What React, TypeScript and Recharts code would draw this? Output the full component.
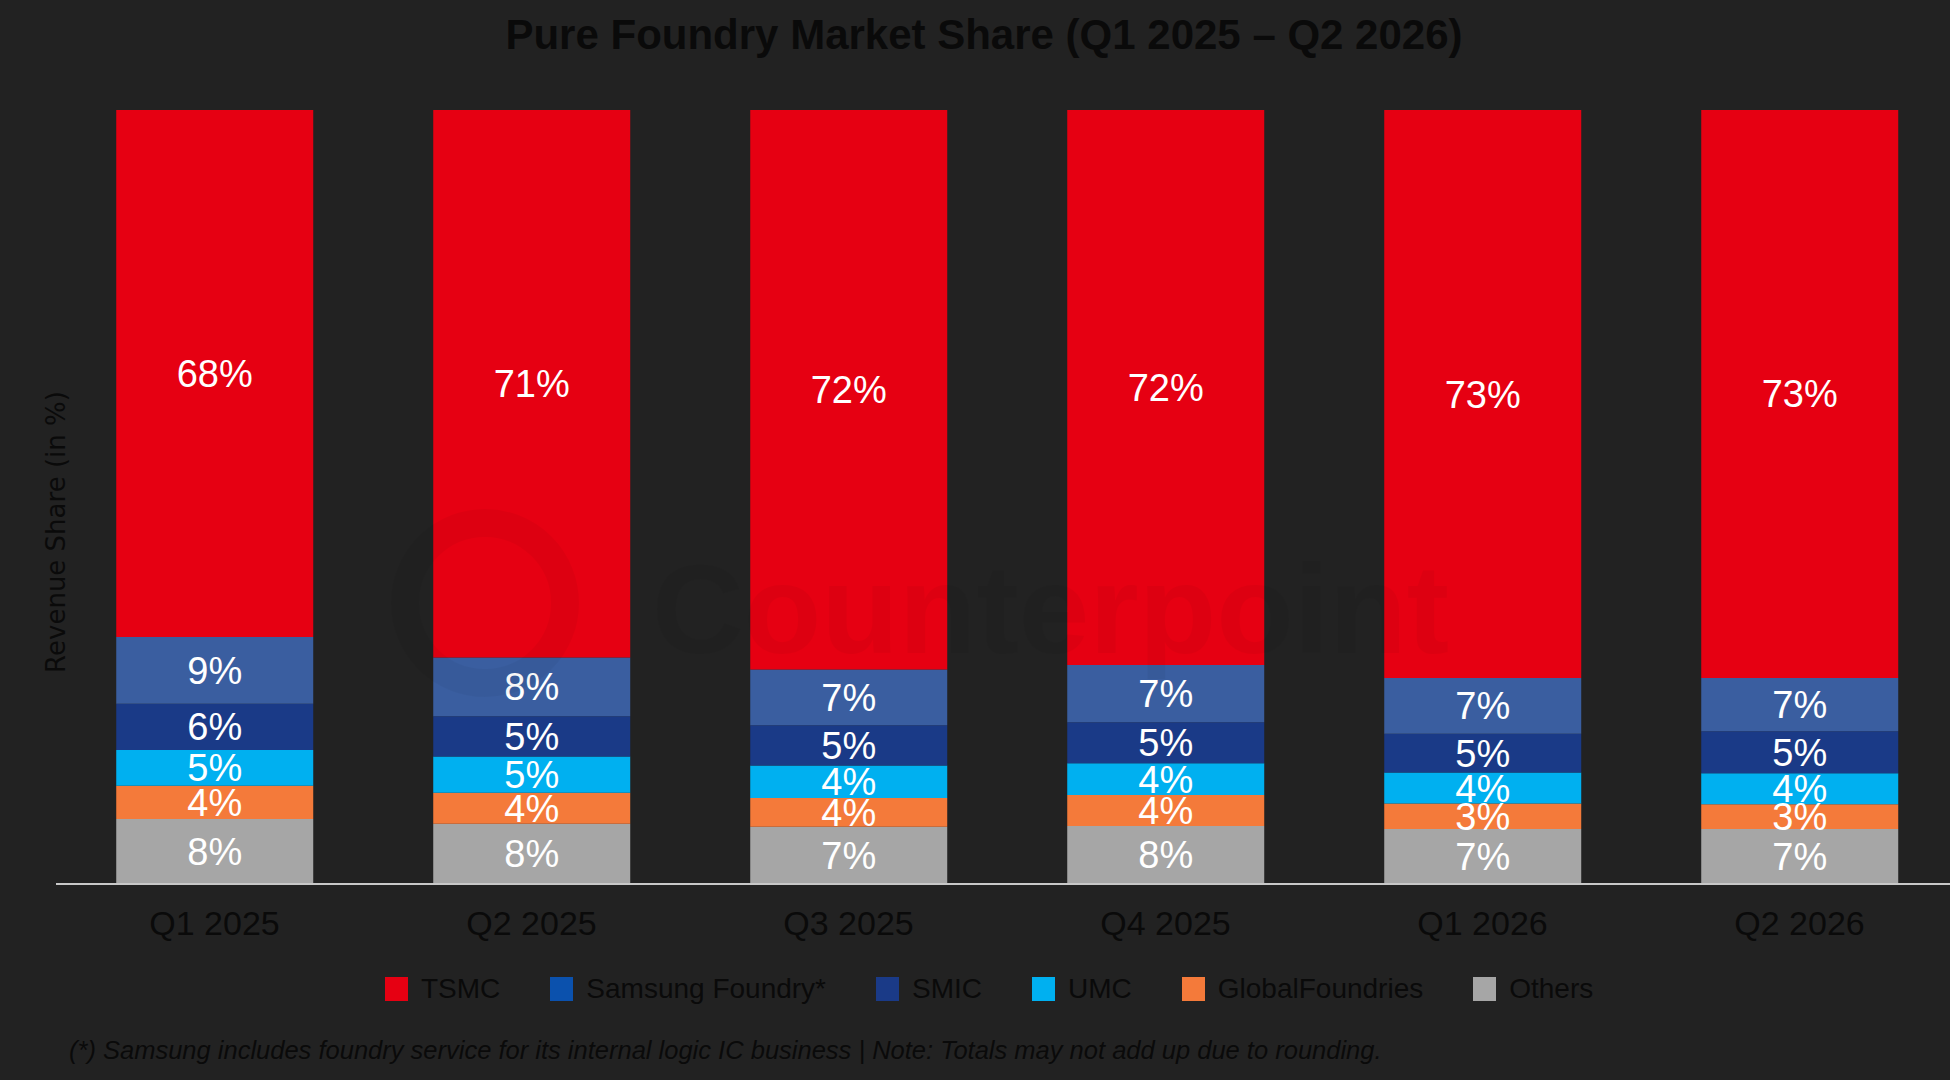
import React from 'react';
import { BarChart, Bar, XAxis, YAxis, LabelList } from 'recharts';

const quarters = ['Q1 2025', 'Q2 2025', 'Q3 2025', 'Q4 2025', 'Q1 2026', 'Q2 2026'];
const tsmc = [68.1, 70.8, 72.3, 71.7, 73.4, 73.3];
const samsung = [8.6, 7.6, 7.2, 7.4, 7.2, 6.9];
const smic = [6.0, 5.2, 5.2, 5.3, 5.0, 5.4];
const umc = [4.6, 4.7, 4.2, 4.1, 4.0, 4.0];
const globalFoundries = [4.3, 4.0, 3.7, 4.0, 3.3, 3.2];
const others = [8.4, 7.8, 7.4, 7.5, 7.1, 7.1];

const FONT = '"Liberation Sans", Arial, sans-serif';
const TEXT = '#0a0a0a';

// bottom of the stack first
const series = [
  { key: 'others', name: 'Others', color: '#a6a6a6', legend: '#a6a6a6' },
  { key: 'gf', name: 'GlobalFoundries', color: '#f47a3a', legend: '#f47a3a' },
  { key: 'umc', name: 'UMC', color: '#00b0f0', legend: '#00b0f0' },
  { key: 'smic', name: 'SMIC', color: '#1a3a87', legend: '#1a3a87' },
  { key: 'samsung', name: 'Samsung Foundry*', color: '#3a5ea0', legend: '#0b51ad' },
  { key: 'tsmc', name: 'TSMC', color: '#e60012', legend: '#e60012' },
];

const data = quarters.map((q, i) => ({
  quarter: q,
  tsmc: tsmc[i],
  samsung: samsung[i],
  smic: smic[i],
  umc: umc[i],
  gf: globalFoundries[i],
  others: others[i],
}));

const pct = (v: any) => `${Math.round(Number(v))}%`;

const App = () => {
  const legendItems = [...series].reverse();
  return (
    <div
      style={{
        position: 'relative',
        width: 1950,
        height: 1080,
        background: '#222222',
        overflow: 'hidden',
        fontFamily: FONT,
      }}
    >
      <style>{'body{margin:0}'}</style>
      <div
        style={{
          position: 'absolute',
          top: 12,
          left: 0,
          width: 1968,
          textAlign: 'center',
          fontSize: 42,
          lineHeight: '46px',
          fontWeight: 'bold',
          color: TEXT,
        }}
      >
        Pure Foundry Market Share (Q1 2025 – Q2 2026)
      </div>

      <BarChart
        width={1958}
        height={1080}
        data={data}
        stackOffset="expand"
        barCategoryGap="19%"
        margin={{ top: 110, right: 0, left: 56, bottom: 0 }}
      >
        <XAxis
          dataKey="quarter"
          height={196}
          tickLine={false}
          tickSize={0}
          tickMargin={27}
          axisLine={{ stroke: '#c8c8c8', strokeWidth: 2 }}
          tick={{ fontSize: 34, fill: TEXT, fontFamily: FONT }}
        />
        <YAxis hide domain={[0, 1]} />
        {series.map((s) => (
          <Bar key={s.key} dataKey={s.key} name={s.name} stackId="a" fill={s.color} isAnimationActive={false}>
            <LabelList
              dataKey={s.key}
              position="center"
              formatter={pct}
              fill="#ffffff"
              fontSize={38}
              fontFamily={FONT}
            />
          </Bar>
        ))}
      </BarChart>

      {/* faint watermark */}
      <svg
        width={1950}
        height={1080}
        style={{ position: 'absolute', left: 0, top: 0, pointerEvents: 'none' }}
      >
        <circle cx={485} cy={603} r={80} fill="none" stroke="#000" strokeWidth={28} opacity={0.035} />
        <text x={652} y={653} fontSize={127} fontWeight="bold" fontFamily={FONT} fill="#000" opacity={0.035}>
          Counterpoint
        </text>
        <text
          transform="translate(56,532) rotate(-90)"
          textAnchor="middle"
          dominantBaseline="central"
          fontSize={26}
          fontFamily='"DejaVu Sans", sans-serif'
          fill={TEXT}
        >
          Revenue Share (in %)
        </text>
      </svg>

      <div
        style={{
          position: 'absolute',
          top: 976,
          left: 385,
          display: 'flex',
          alignItems: 'center',
          height: 26,
        }}
      >
        {legendItems.map((s, i) => (
          <div
            key={s.key}
            style={{ display: 'flex', alignItems: 'center', marginRight: i < legendItems.length - 1 ? 50 : 0 }}
          >
            <span style={{ width: 23, height: 24, background: s.legend, display: 'inline-block', marginRight: 13 }} />
            <span style={{ fontSize: 28, color: TEXT, lineHeight: '26px' }}>{s.name}</span>
          </div>
        ))}
      </div>

      <div
        style={{
          position: 'absolute',
          top: 1035,
          left: 69,
          fontSize: 25.5,
          lineHeight: '30px',
          fontStyle: 'italic',
          color: TEXT,
        }}
      >
        (*) Samsung includes foundry service for its internal logic IC business | Note: Totals may not add up due to rounding.
      </div>
    </div>
  );
};

export default App;
